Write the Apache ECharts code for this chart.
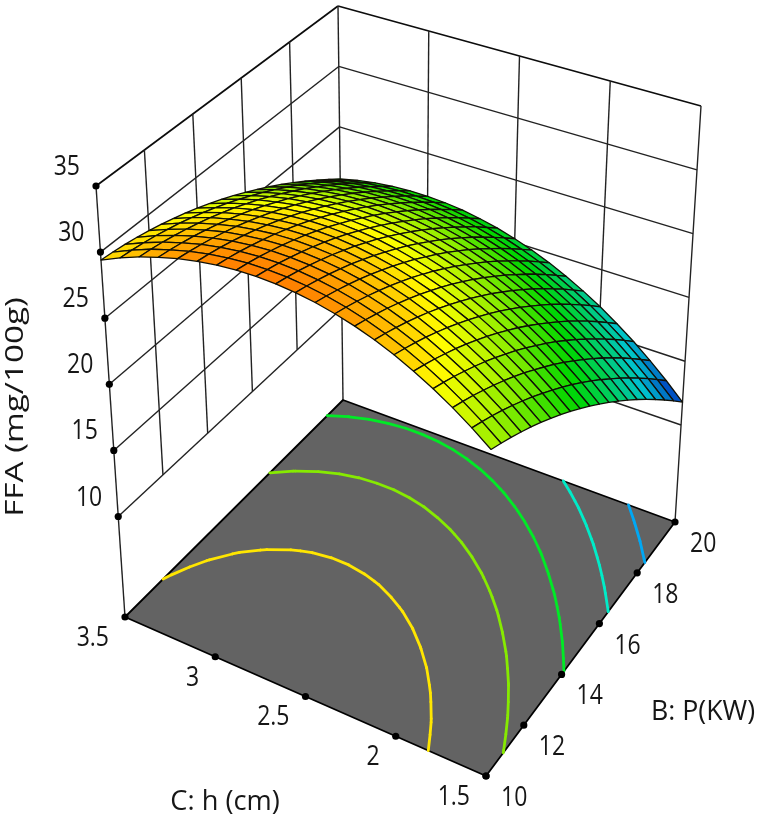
<!DOCTYPE html>
<html>
<head>
<meta charset="utf-8">
<style>html,body{margin:0;padding:0;background:#fff}#chart{width:760px;height:823px}</style>
<script src="https://cdn.jsdelivr.net/npm/echarts@6/dist/echarts.min.js"></script>
</head>
<body>
<div id="chart"></div>
<script>
// Axis ticks
const heightTicks = [3.5, 3, 2.5, 2, 1.5];
const powerTicks = [10, 12, 14, 16, 18, 20];
const ffaTicks = [10, 15, 20, 25, 30, 35];
const floorFFA = 2.4;

// Mesh node positions
const heightNodes = [1.5,1.6,1.7,1.8,1.9,2.0,2.1,2.2,2.3,2.4,2.5,2.6,2.7,2.8,2.9,3.0,3.1,3.2,3.3,3.4,3.5];
const powerNodes = [10,10.5,11,11.5,12,12.5,13,13.5,14,14.5,15,15.5,16,16.5,17,17.5,18,18.5,19,19.5,20];

// FFA (mg/100g): one row per power node, one entry per height node
const ffaSurface = [
[25.90,26.94,27.89,28.75,29.51,30.19,30.77,31.26,31.66,31.97,32.19,32.32,32.36,32.31,32.17,31.93,31.61,31.19,30.69,30.09,29.40],
[25.53,26.58,27.54,28.41,29.18,29.87,30.46,30.96,31.38,31.70,31.93,32.08,32.13,32.10,31.97,31.75,31.44,31.04,30.56,29.97,29.30],
[25.13,26.19,27.16,28.04,28.82,29.52,30.12,30.63,31.06,31.39,31.64,31.80,31.87,31.85,31.74,31.53,31.24,30.85,30.39,29.82,29.17],
[24.69,25.76,26.73,27.62,28.41,29.13,29.74,30.27,30.70,31.05,31.31,31.48,31.56,31.56,31.46,31.27,31.00,30.63,30.18,29.64,29.00],
[24.22,25.29,26.28,27.18,27.98,28.70,29.33,29.86,30.31,30.67,30.95,31.13,31.23,31.24,31.16,30.98,30.73,30.37,29.94,29.41,28.80],
[23.71,24.79,25.79,26.70,27.51,28.24,28.88,29.43,29.89,30.26,30.55,30.75,30.86,30.88,30.82,30.66,30.42,30.08,29.67,29.16,28.56],
[23.16,24.25,25.26,26.18,27.00,27.74,28.39,28.95,29.43,29.81,30.11,30.32,30.45,30.49,30.44,30.29,30.07,29.75,29.36,28.86,28.28],
[22.58,23.68,24.70,25.62,26.46,27.21,27.87,28.44,28.93,29.33,29.64,29.87,30.01,30.06,30.03,29.90,29.69,29.39,29.01,28.53,27.97],
[21.96,23.07,24.10,25.04,25.88,26.64,27.31,27.90,28.40,28.81,29.13,29.37,29.53,29.60,29.58,29.46,29.27,28.99,28.63,28.17,27.62],
[21.31,22.43,23.46,24.41,25.26,26.04,26.72,27.32,27.83,28.25,28.59,28.85,29.01,29.10,29.09,29.00,28.82,28.55,28.21,27.77,27.24],
[20.63,21.75,22.80,23.75,24.62,25.40,26.10,26.70,27.23,27.66,28.02,28.28,28.47,28.56,28.58,28.49,28.34,28.08,27.76,27.33,26.83],
[19.90,21.04,22.09,23.06,23.93,24.73,25.43,26.05,26.59,27.04,27.40,27.68,27.88,27.99,28.02,27.95,27.81,27.58,27.27,26.86,26.37],
[19.14,20.29,21.35,22.33,23.21,24.02,24.73,25.37,25.91,26.38,26.75,27.05,27.26,27.39,27.43,27.38,27.25,27.04,26.74,26.36,25.88],
[18.35,19.50,20.57,21.56,22.45,23.27,24.00,24.64,25.20,25.68,26.07,26.38,26.60,26.75,26.80,26.77,26.66,26.46,26.18,25.81,25.36],
[17.52,18.68,19.76,20.76,21.66,22.49,23.23,23.89,24.46,24.95,25.35,25.67,25.91,26.07,26.14,26.12,26.03,25.85,25.59,25.24,24.80],
[16.66,17.83,18.92,19.92,20.84,21.68,22.43,23.09,23.68,24.18,24.60,24.93,25.19,25.36,25.45,25.44,25.37,25.20,24.96,24.62,24.21],
[15.76,16.94,18.03,19.05,19.97,20.83,21.59,22.26,22.86,23.37,23.81,24.16,24.42,24.61,24.71,24.73,24.67,24.51,24.29,23.97,23.58],
[14.82,16.01,17.12,18.14,19.08,19.94,20.71,21.40,22.01,22.54,22.98,23.34,23.63,23.83,23.95,23.97,23.93,23.80,23.59,23.29,22.91],
[13.85,15.05,16.16,17.20,18.14,19.02,19.80,20.50,21.12,21.66,22.12,22.50,22.79,23.01,23.14,23.19,23.16,23.04,22.85,22.57,22.21],
[12.84,14.05,15.17,16.22,17.17,18.06,18.85,19.57,20.20,20.75,21.22,21.61,21.92,22.15,22.30,22.36,22.35,22.25,22.08,21.82,21.47],
[11.80,13.02,14.15,15.21,16.17,17.07,17.87,18.60,19.24,19.81,20.29,20.70,21.02,21.27,21.43,21.51,21.51,21.43,21.27,21.03,20.70]
];

// Contour levels printed on the floor
const contourLevels = [28.9, 25.2, 21.8, 18.4, 15.0];
const contourColors = ['#ffe600', '#86ea00', '#00ea26', '#00ecc8', '#00a8f4'];

// Colour ramp of the surface
const rampValues = [11.5, 16.0, 21.8, 28.5, 33.0];
const rampColors = [[0, 30, 190], [0, 195, 205], [0, 214, 0], [255, 255, 0], [255, 100, 0]];

// Screen position of the box corners: [height end, power end]
const floorCorners = { a: [486, 776], b: [125, 617], c: [675, 522], d: [343, 400] };
const topCorners = { a: [493, 323], b: [96, 186], c: [701, 106], d: [338, 6] };

function bilinear(q, s, t) {
  return [0, 1].map(k =>
    q.a[k] * (1 - s) * (1 - t) + q.b[k] * s * (1 - t) + q.c[k] * (1 - s) * t + q.d[k] * s * t);
}

// Box coordinates (height, power, FFA) to plot units
function project(height, power, ffa) {
  const s = (height - 1.5) / 2, t = (power - 10) / 10, w = (ffa - floorFFA) / (35 - floorFFA);
  const lo = bilinear(floorCorners, s, t), hi = bilinear(topCorners, s, t);
  return [lo[0] + (hi[0] - lo[0]) * w, lo[1] + (hi[1] - lo[1]) * w];
}

function rampColor(v) {
  let k = 0;
  while (k < rampValues.length - 2 && v > rampValues[k + 1]) k++;
  const f = Math.max(0, Math.min(1, (v - rampValues[k]) / (rampValues[k + 1] - rampValues[k])));
  const c = rampColors[k].map((x, n) => Math.round(x + (rampColors[k + 1][n] - x) * f));
  return 'rgb(' + c.join(',') + ')';
}

// Wall grid: [height1, power1, ffa1, height2, power2, ffa2, strong]
const wallLines = [];
ffaTicks.forEach(z => {
  const strong = z === 35 ? 1 : 0;
  wallLines.push([3.5, 10, z, 3.5, 20, z, strong]);
  wallLines.push([3.5, 20, z, 1.5, 20, z, strong]);
});
powerTicks.forEach(b => {
  const bottom = (b === 10 || b === 20) ? floorFFA : 10;
  wallLines.push([3.5, b, bottom, 3.5, b, 35, 0]);
});
heightTicks.forEach(c => {
  if (c === 3.5) return;
  wallLines.push([c, 20, c === 1.5 ? floorFFA : 10, c, 20, 35, 0]);
});

// Surface cells, listed from the far corner to the near one
const surfaceCells = [];
for (let j = powerNodes.length - 2; j >= 0; j--) {
  for (let i = heightNodes.length - 2; i >= 0; i--) surfaceCells.push([i, j]);
}

// Marching squares over the surface table for one level
function contourSegments(level) {
  const segs = [];
  const node = (i, j) => ({ c: heightNodes[i], b: powerNodes[j], z: ffaSurface[j][i] });
  const cross = (p, q) => {
    const f = (level - p.z) / (q.z - p.z);
    return [p.c + (q.c - p.c) * f, p.b + (q.b - p.b) * f];
  };
  for (let j = 0; j < powerNodes.length - 1; j++) {
    for (let i = 0; i < heightNodes.length - 1; i++) {
      const ring = [node(i, j), node(i + 1, j), node(i + 1, j + 1), node(i, j + 1)];
      const hits = [];
      for (let k = 0; k < 4; k++) {
        const p = ring[k], q = ring[(k + 1) % 4];
        if ((p.z < level) !== (q.z < level)) hits.push(cross(p, q));
      }
      for (let k = 0; k + 1 < hits.length; k += 2) segs.push([hits[k], hits[k + 1]]);
    }
  }
  return segs;
}

const textColor = '#161616';
const tickFont = '23px "Open Sans", "Noto Sans", sans-serif';
const titleFont = '25px "Open Sans", "Noto Sans", sans-serif';
const tickLabels = [
  ...ffaTicks.map(z => [3.5, 10, z, String(z), -16, -19, 'right']),
  ...heightTicks.map(c => [c, 10, floorFFA, String(c), -16, 21, 'right']),
  ...powerTicks.map(b => [1.5, b, floorFFA, String(b), 15, 22, 'left'])
];
const tickDots = [
  ...ffaTicks.map(z => [3.5, 10, z]),
  ...heightTicks.map(c => [c, 10, floorFFA]),
  ...powerTicks.map(b => [1.5, b, floorFFA])
];

const chart = echarts.init(document.getElementById('chart'), null, { renderer: 'canvas' });

function customSeries(data, renderItem, z) {
  return {
    type: 'custom', coordinateSystem: 'cartesian2d', data, renderItem, z,
    clip: false, silent: true, animation: false, progressive: 0,
    encode: { x: 0, y: 1 }
  };
}

chart.setOption({
  animation: false,
  backgroundColor: '#fff',
  grid: { left: 0, right: 0, top: 0, bottom: 0 },
  xAxis: { type: 'value', min: 0, max: 760, show: false },
  yAxis: { type: 'value', min: 0, max: 823, inverse: true, show: false },
  graphic: [
    { type: 'text', x: 16, y: 407, rotation: Math.PI / 2, scaleX: 1.33, scaleY: 1, silent: true,
      style: { text: 'FFA (mg/100g)', font: titleFont, fill: textColor, align: 'center', verticalAlign: 'middle' } },
    { type: 'text', x: 225, y: 802, scaleX: 1.09, scaleY: 1.12, silent: true,
      style: { text: 'C: h (cm)', font: titleFont, fill: textColor, align: 'center', verticalAlign: 'middle' } },
    { type: 'text', x: 703, y: 712, scaleX: 1.07, scaleY: 1.12, silent: true,
      style: { text: 'B: P(KW)', font: titleFont, fill: textColor, align: 'center', verticalAlign: 'middle' } }
  ],
  series: [
    // back walls
    customSeries(wallLines, (p, api) => {
      const a = api.coord(project(api.value(0), api.value(1), api.value(2)));
      const b = api.coord(project(api.value(3), api.value(4), api.value(5)));
      const strong = api.value(6) === 1;
      return { type: 'line', shape: { x1: a[0], y1: a[1], x2: b[0], y2: b[1] },
        style: { stroke: strong ? '#0c0c0c' : '#222', lineWidth: strong ? 1.7 : 1.4 } };
    }, 1),
    // grey floor
    customSeries([[0]], (p, api) => {
      const pts = [[1.5, 10], [3.5, 10], [3.5, 20], [1.5, 20]]
        .map(q => api.coord(project(q[0], q[1], floorFFA)));
      return { type: 'polygon', shape: { points: pts },
        style: { fill: '#636363', stroke: '#000', lineWidth: 1.8, lineJoin: 'round' } };
    }, 2),
    // floor contours
    customSeries(contourLevels.map((v, k) => [v, k]), (p, api) => {
      const colour = contourColors[api.value(1)];
      return { type: 'group', children: contourSegments(api.value(0)).map(seg => {
        const a = api.coord(project(seg[0][0], seg[0][1], floorFFA));
        const b = api.coord(project(seg[1][0], seg[1][1], floorFFA));
        return { type: 'line', shape: { x1: a[0], y1: a[1], x2: b[0], y2: b[1] },
          style: { stroke: colour, lineWidth: 2.8, lineCap: 'round' } };
      }) };
    }, 3),
    // response surface
    customSeries(surfaceCells, (p, api) => {
      const i = api.value(0), j = api.value(1);
      const corners = [[i, j], [i + 1, j], [i + 1, j + 1], [i, j + 1]];
      let sum = 0;
      const pts = corners.map(q => {
        const z = ffaSurface[q[1]][q[0]];
        sum += z;
        return api.coord(project(heightNodes[q[0]], powerNodes[q[1]], z));
      });
      return { type: 'polygon', shape: { points: pts },
        style: { fill: rampColor(sum / 4), stroke: '#101006', lineWidth: 1.3, lineJoin: 'round' } };
    }, 4),
    // tick dots
    customSeries(tickDots, (p, api) => {
      const c = api.coord(project(api.value(0), api.value(1), api.value(2)));
      return { type: 'circle', shape: { cx: c[0], cy: c[1], r: 3.6 }, style: { fill: '#000' } };
    }, 5),
    // tick labels, stretched vertically to the tall digit shape of the plot
    customSeries(tickLabels, (p, api) => {
      const c = api.coord(project(api.value(0), api.value(1), api.value(2)));
      return { type: 'text', x: c[0] + api.value(4), y: c[1] + api.value(5), scaleY: 1.22,
        style: { text: api.value(3), x: 0, y: 0,
          font: tickFont, fill: textColor, align: api.value(6), verticalAlign: 'middle' } };
    }, 6)
  ]
});
</script>
</body>
</html>
